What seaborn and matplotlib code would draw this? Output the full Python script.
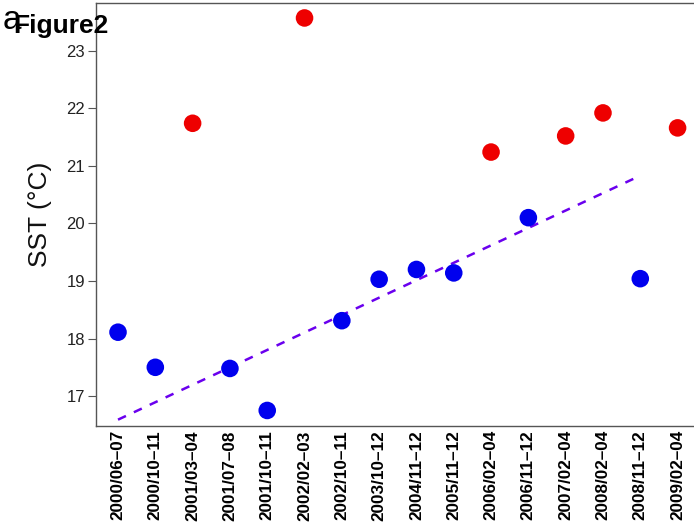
import matplotlib
matplotlib.use('Agg')
import matplotlib.pyplot as plt
import numpy as np
import pandas as pd
import seaborn as sns

periods = ['2000/06–07', '2000/10–11', '2001/03–04', '2001/07–08', '2001/10–11',
           '2002/02–03', '2002/10–11', '2003/10–12', '2004/11–12', '2005/11–12',
           '2006/02–04', '2006/11–12', '2007/02–04', '2008/02–04', '2008/11–12',
           '2009/02–04']
sst = [18.11, 17.50, 21.74, 17.48, 16.75, 23.57, 18.31, 19.03, 19.20, 19.14,
       21.24, 20.10, 21.52, 21.92, 19.04, 21.66]
group = ['b', 'b', 'r', 'b', 'b', 'r', 'b', 'b', 'b', 'b',
         'r', 'b', 'r', 'r', 'b', 'r']

# dashed trend line end points
trend_x = [0, 14]
trend_y = [16.59, 20.83]

df = pd.DataFrame({'x': np.arange(len(periods)), 'sst': sst, 'group': group})
trend = pd.DataFrame({'x': trend_x, 'sst': trend_y})

sns.set_style('white')
plt.rcParams['font.family'] = ['Liberation Sans', 'DejaVu Sans']

fig = plt.figure(figsize=(6.94, 5.28), dpi=100)
ax = fig.add_axes([96 / 694, 102 / 528, 1 - 96 / 694, 423 / 528])

sns.lineplot(data=trend, x='x', y='sst', ax=ax, color='#6a00ee',
             linewidth=1.8, linestyle=(0, (3.5, 3.5)))
sns.scatterplot(data=df, x='x', y='sst', hue='group',
                palette={'b': '#0000ee', 'r': '#ee0000'},
                s=160, edgecolor='none', legend=False, ax=ax, zorder=3)

ax.set_xlim(-0.59, 15.44)
ax.set_ylim(16.48, 23.83)
ax.set_xticks(df['x'])
ax.set_xticklabels(periods, rotation=90, fontsize=12.3, fontweight='bold',
                   color='black')
ax.set_yticks([17, 18, 19, 20, 21, 22, 23])
ax.tick_params(axis='y', labelsize=12, length=6, width=0.8, color='#555555',
               labelcolor='#222222', pad=2, left=True)
ax.tick_params(axis='x', length=0, pad=3)
ax.set_xlabel('')
ax.set_ylabel('SST (°C)', fontsize=19, labelpad=10, color='#111111')

for side in ['left', 'bottom', 'top']:
    ax.spines[side].set_color('#555555')
    ax.spines[side].set_linewidth(1.0)
ax.spines['right'].set_visible(False)

fig.text(3 / 694, 1 - 29 / 528, 'a', fontsize=24, ha='left', va='baseline',
         color='black')
fig.text(13 / 694, 1 - 33 / 528, 'Figure2', fontsize=19, fontweight='bold',
         ha='left', va='baseline', color='black')

fig.savefig('out.png', dpi=100)
